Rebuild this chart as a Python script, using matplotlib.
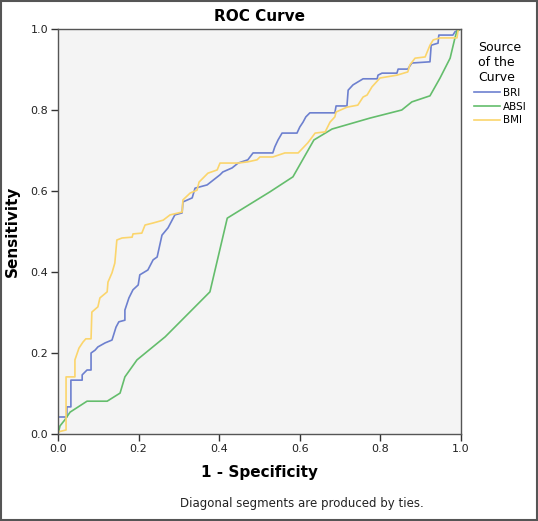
import matplotlib.pyplot as plt
from matplotlib.patches import Rectangle

# ROC curve points (1 - specificity, sensitivity)
bri_x = [0, 0, 0.022, 0.022, 0.032, 0.032, 0.060, 0.060, 0.072, 0.082, 0.082, 0.092, 0.099,
         0.117, 0.134, 0.144, 0.151, 0.166, 0.166, 0.176, 0.186, 0.199, 0.203, 0.223, 0.236,
         0.246, 0.258, 0.273, 0.290, 0.308, 0.310, 0.333, 0.340, 0.370, 0.402, 0.409, 0.432,
         0.447, 0.471, 0.484, 0.533, 0.538, 0.546, 0.556, 0.593, 0.600, 0.608, 0.615, 0.625,
         0.687, 0.690, 0.717, 0.720, 0.732, 0.757, 0.792, 0.794, 0.804, 0.841, 0.844, 0.868,
         0.878, 0.923, 0.926, 0.943, 0.945, 0.980, 0.985, 1.0]
bri_y = [0, 0.042, 0.042, 0.067, 0.067, 0.133, 0.133, 0.146, 0.158, 0.158, 0.200, 0.207, 0.215,
         0.225, 0.232, 0.264, 0.277, 0.281, 0.306, 0.336, 0.356, 0.368, 0.393, 0.405, 0.430,
         0.437, 0.491, 0.509, 0.541, 0.546, 0.573, 0.583, 0.607, 0.615, 0.640, 0.647, 0.657,
         0.669, 0.677, 0.694, 0.694, 0.709, 0.726, 0.743, 0.743, 0.758, 0.770, 0.783, 0.793,
         0.793, 0.810, 0.810, 0.849, 0.862, 0.877, 0.877, 0.886, 0.891, 0.891, 0.901, 0.901,
         0.916, 0.919, 0.960, 0.965, 0.985, 0.985, 0.993, 1.0]

absi_x = [0, 0.005, 0.017, 0.030, 0.072, 0.122, 0.154, 0.166, 0.196, 0.266, 0.377, 0.420,
          0.526, 0.583, 0.635, 0.680, 0.774, 0.853, 0.878, 0.923, 0.948, 0.973, 0.985, 0.990, 1.0]
absi_y = [0, 0.020, 0.035, 0.054, 0.081, 0.081, 0.101, 0.141, 0.183, 0.240, 0.351, 0.533,
          0.598, 0.635, 0.726, 0.753, 0.780, 0.800, 0.820, 0.835, 0.879, 0.928, 0.978, 0.995, 1.0]

bmi_x = [0, 0, 0.020, 0.020, 0.042, 0.042, 0.052, 0.062, 0.069, 0.082, 0.084, 0.099, 0.104,
         0.122, 0.124, 0.134, 0.141, 0.146, 0.159, 0.184, 0.186, 0.208, 0.216, 0.236, 0.261,
         0.278, 0.308, 0.310, 0.328, 0.345, 0.350, 0.372, 0.395, 0.402, 0.447, 0.471, 0.494,
         0.501, 0.533, 0.563, 0.596, 0.620, 0.638, 0.663, 0.675, 0.687, 0.690, 0.717, 0.744,
         0.757, 0.767, 0.779, 0.799, 0.841, 0.868, 0.873, 0.886, 0.911, 0.923, 0.931, 0.948,
         0.990, 0.993, 1.0]
bmi_y = [0, 0.005, 0.010, 0.141, 0.141, 0.183, 0.212, 0.227, 0.235, 0.235, 0.301, 0.314, 0.336,
         0.351, 0.375, 0.398, 0.422, 0.479, 0.484, 0.486, 0.494, 0.496, 0.516, 0.521, 0.528,
         0.541, 0.548, 0.578, 0.595, 0.602, 0.622, 0.644, 0.652, 0.669, 0.669, 0.672, 0.677,
         0.684, 0.684, 0.694, 0.694, 0.719, 0.743, 0.746, 0.770, 0.783, 0.795, 0.807, 0.812,
         0.832, 0.837, 0.857, 0.879, 0.886, 0.894, 0.911, 0.928, 0.931, 0.960, 0.973, 0.978,
         0.978, 0.998, 1.0]

ticks = [0.0, 0.2, 0.4, 0.6, 0.8, 1.0]

fig = plt.figure(figsize=(5.38, 5.21), dpi=100)
ax = fig.add_axes([58/538, 1-434/521, 403/538, 405/521])
ax.set_facecolor('#f4f4f4')

ax.plot(bri_x, bri_y, color='#6d80cf', lw=1.2, label='BRI')
ax.plot(absi_x, absi_y, color='#64bd6c', lw=1.2, label='ABSI')
ax.plot(bmi_x, bmi_y, color='#fbd56c', lw=1.2, label='BMI')

ax.set_xlim(0, 1)
ax.set_ylim(0, 1)
ax.set_xticks(ticks)
ax.set_yticks(ticks)
ax.set_xticklabels(['%.1f' % t for t in ticks])
ax.set_yticklabels(['%.1f' % t for t in ticks])
ax.tick_params(direction='out', length=5, width=1, color='#333333', labelsize=8,
               labelcolor='#222222', pad=2)
for s in ax.spines.values():
    s.set_color('#555555')
    s.set_linewidth(1)

ax.set_title('ROC Curve', fontsize=11, fontweight='bold', pad=6)
ax.set_xlabel('1 - Specificity', fontsize=11, fontweight='bold', labelpad=8)
ax.set_ylabel('Sensitivity', fontsize=11, fontweight='bold')
ax.yaxis.set_label_coords(-0.094, 0.5)

leg = fig.legend(loc='upper center', bbox_to_anchor=(500/538, 1-32/521), frameon=False,
                 title='Source\nof the\nCurve', fontsize=7.5, title_fontsize=9,
                 handlelength=2.5, handletextpad=0.3, labelspacing=0.35)
leg._legend_box.align = 'center'

fig.text(302/538, 1-503/521, 'Diagonal segments are produced by ties.',
         ha='center', va='center', fontsize=8.5, color='#222222')

# outer frame around the whole picture
fig.patches.append(Rectangle((0.002, 0.002), 0.996, 0.996, transform=fig.transFigure,
                             fill=False, edgecolor='#555555', lw=1.5))

fig.savefig('out.png', dpi=100)
